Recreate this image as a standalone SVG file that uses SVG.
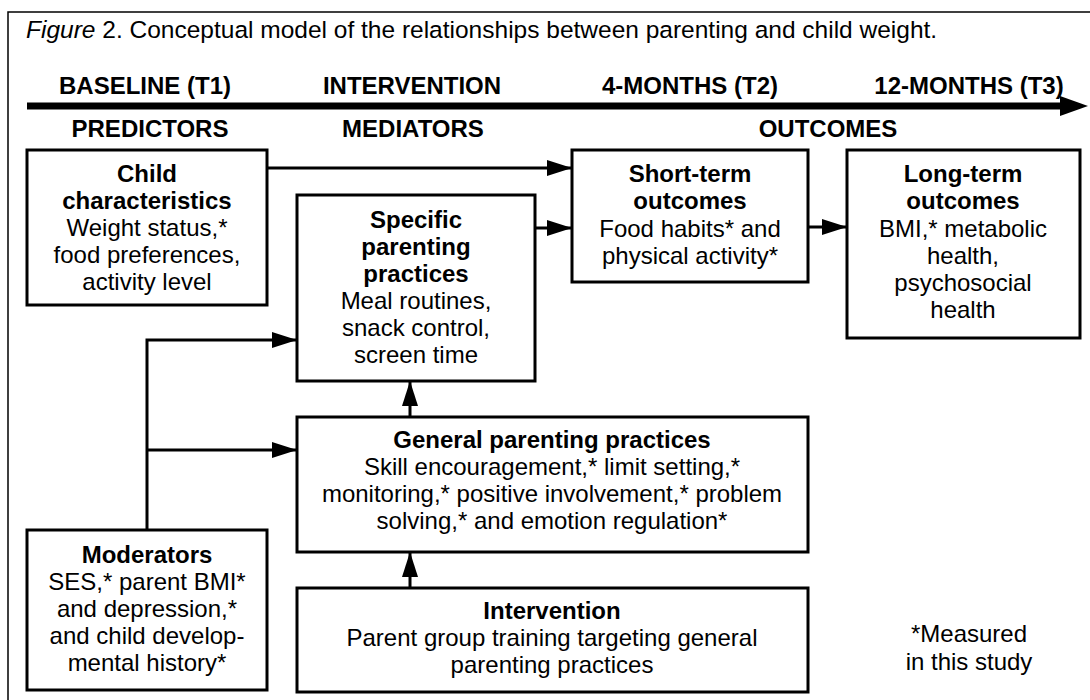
<svg xmlns="http://www.w3.org/2000/svg" width="1090" height="700" viewBox="0 0 1090 700">
<style>
text{font-family:"Liberation Sans",Arial,sans-serif;fill:#000}
.cap{font-size:24.5px}
.hd{font-size:24px;font-weight:bold;text-anchor:middle}
.b{font-size:24px;font-weight:bold;text-anchor:middle}
.t{font-size:24px;text-anchor:middle}
.box{fill:#fff;stroke:#000;stroke-width:3}
.con{fill:none;stroke:#000;stroke-width:3}
</style>
<defs>
<marker id="ah" markerUnits="userSpaceOnUse" markerWidth="26" markerHeight="18" refX="25" refY="8" orient="auto">
<polygon points="0,0 25,8 0,16" fill="#000"/>
</marker>
</defs>
<rect width="1090" height="700" fill="#fff"/>
<path d="M8,700 V12 H1090" fill="none" stroke="#000" stroke-width="1.5"/>
<text class="cap" x="26" y="38"><tspan font-style="italic">Figure</tspan> 2. Conceptual model of the relationships between parenting and child weight.</text>
<g id="timeline">
<text class="hd" x="145" y="94">BASELINE (T1)</text>
<text class="hd" x="412" y="94">INTERVENTION</text>
<text class="hd" x="690" y="94">4-MONTHS (T2)</text>
<text class="hd" x="969" y="94">12-MONTHS (T3)</text>
<line x1="27" y1="106" x2="1064" y2="106" stroke="#000" stroke-width="7"/>
<polygon points="1060,96 1088,106 1060,116" fill="#000"/>
<text class="hd" x="150" y="137">PREDICTORS</text>
<text class="hd" x="413" y="137">MEDIATORS</text>
<text class="hd" x="828" y="137">OUTCOMES</text>
</g>
<g id="connectors">
<path class="con" d="M267,168 H572" marker-end="url(#ah)"/>
<path class="con" d="M535,228 H572" marker-end="url(#ah)"/>
<path class="con" d="M808,227 H847" marker-end="url(#ah)"/>
<path class="con" d="M147,530 V340 H297" marker-end="url(#ah)"/>
<path class="con" d="M147,450 H297" marker-end="url(#ah)"/>
<path class="con" d="M410,417 V381" marker-end="url(#ah)"/>
<path class="con" d="M410,588 V552" marker-end="url(#ah)"/>
</g>
<g id="child">
<rect class="box" x="27" y="150" width="240" height="155"/>
<text class="b" x="147" y="182">Child</text>
<text class="b" x="147" y="209">characteristics</text>
<text class="t" x="147" y="236">Weight status,*</text>
<text class="t" x="147" y="263">food preferences,</text>
<text class="t" x="147" y="290">activity level</text>
</g>
<g id="short">
<rect class="box" x="572" y="150" width="236" height="132"/>
<text class="b" x="690" y="182">Short-term</text>
<text class="b" x="690" y="209">outcomes</text>
<text class="t" x="690" y="237">Food habits* and</text>
<text class="t" x="690" y="264">physical activity*</text>
</g>
<g id="long">
<rect class="box" x="847" y="150" width="233" height="188"/>
<text class="b" x="963" y="182">Long-term</text>
<text class="b" x="963" y="209">outcomes</text>
<text class="t" x="963" y="237">BMI,* metabolic</text>
<text class="t" x="963" y="264">health,</text>
<text class="t" x="963" y="291">psychosocial</text>
<text class="t" x="963" y="318">health</text>
</g>
<g id="specific">
<rect class="box" x="297" y="195" width="238" height="186"/>
<text class="b" x="416" y="228">Specific</text>
<text class="b" x="416" y="255">parenting</text>
<text class="b" x="416" y="282">practices</text>
<text class="t" x="416" y="309">Meal routines,</text>
<text class="t" x="416" y="336">snack control,</text>
<text class="t" x="416" y="363">screen time</text>
</g>
<g id="general">
<rect class="box" x="297" y="417" width="511" height="135"/>
<text class="b" x="552" y="448">General parenting practices</text>
<text class="t" x="552" y="475">Skill encouragement,* limit setting,*</text>
<text class="t" x="552" y="502">monitoring,* positive involvement,* problem</text>
<text class="t" x="552" y="529">solving,* and emotion regulation*</text>
</g>
<g id="intervention">
<rect class="box" x="297" y="588" width="511" height="104"/>
<text class="b" x="552" y="619">Intervention</text>
<text class="t" x="552" y="646">Parent group training targeting general</text>
<text class="t" x="552" y="673">parenting practices</text>
</g>
<g id="moderators">
<rect class="box" x="27" y="530" width="240" height="160"/>
<text class="b" x="147" y="563">Moderators</text>
<text class="t" x="147" y="590">SES,* parent BMI*</text>
<text class="t" x="147" y="617">and depression,*</text>
<text class="t" x="147" y="644">and child develop-</text>
<text class="t" x="147" y="671">mental history*</text>
</g>
<g id="note">
<text class="t" x="969" y="642">*Measured</text>
<text class="t" x="969" y="670">in this study</text>
</g>
</svg>
